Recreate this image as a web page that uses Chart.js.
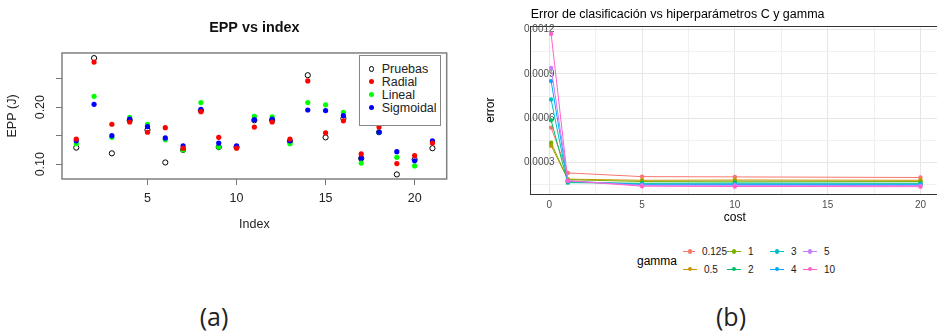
<!DOCTYPE html>
<html>
<head>
<meta charset="utf-8">
<script src="https://cdn.jsdelivr.net/npm/chart.js@4.4.1/dist/chart.umd.min.js"></script>
<style>
  html, body { margin: 0; padding: 0; background: #fff; width: 937px; height: 332px; overflow: hidden; }
  body { position: relative; font-family: "Liberation Sans", Arial, sans-serif; }
  .wrap { position: absolute; }
  #wrapA { left: 0; top: 0; width: 460px; height: 240px; }
  #wrapB { left: 470px; top: 0; width: 473px; height: 240px; }
  #legendA { position: absolute; left: 359px; top: 55px; width: 80px; height: 62px; border: 1px solid #888; padding-top: 6.5px; box-sizing: content-box; background: #fff; }
  #legendA .row { height: 12.9px; display: flex; align-items: center; font-size: 12.5px; color: #222; }
  #legendA .sym { width: 5.2px; height: 5.2px; border-radius: 50%; margin-left: 8.5px; box-sizing: border-box; }
  #legendA .txt { margin-left: 8px; }
  #gammaTitle { position: absolute; left: 637px; top: 254px; font-size: 12px; color: #000; }
  #legendB { position: absolute; left: 683px; top: 243px; display: grid; grid-auto-flow: column; grid-template-rows: 17.6px 17.6px; grid-template-columns: 44px 43px 33px 40px; }
  #legendB .item { display: flex; align-items: center; font-size: 10px; color: #1a1a1a; }
  #legendB .key { position: relative; width: 14px; height: 10px; }
  #legendB .line { position: absolute; left: 0; right: 0; top: 4.5px; height: 1px; }
  #legendB .dot { position: absolute; left: 4.8px; top: 2.7px; width: 4.4px; height: 4.4px; border-radius: 50%; }
  #legendB .lab { margin-left: 7px; }
  .caption { position: absolute; top: 299px; width: 80px; text-align: center; font-family: "Open Sans", sans-serif; font-size: 25px; color: #222; }
</style>
</head>
<body>
<div class="wrap" id="wrapA"><canvas id="chartA"></canvas></div>
<div id="legendA"></div>
<div class="wrap" id="wrapB"><canvas id="chartB"></canvas></div>
<div id="gammaTitle">gamma</div>
<div id="legendB"></div>
<div class="caption" style="left:174px">(a)</div>
<div class="caption" style="left:691px">(b)</div>

<script>
// Chart (a): EPP per test sample
const sampleIndex = [1, 2, 3, 4, 5, 6, 7, 8, 9, 10, 11, 12, 13, 14, 15, 16, 17, 18, 19, 20, 21];
const eppPruebas   = [0.129, 0.286, 0.119, 0.177, 0.160, 0.103, 0.125, 0.194, 0.130, 0.130, 0.177, 0.177, 0.140, 0.256, 0.147, 0.180, 0.110, 0.156, 0.082, 0.108, 0.128];
const eppRadial    = [0.144, 0.279, 0.170, 0.174, 0.156, 0.164, 0.128, 0.192, 0.147, 0.128, 0.165, 0.174, 0.144, 0.246, 0.155, 0.176, 0.118, 0.165, 0.101, 0.115, 0.137];
const eppLineal    = [0.136, 0.219, 0.147, 0.182, 0.170, 0.143, 0.125, 0.208, 0.130, 0.130, 0.184, 0.183, 0.136, 0.208, 0.204, 0.191, 0.102, 0.156, 0.112, 0.097, 0.139];
const eppSigmoidal = [0.141, 0.205, 0.150, 0.179, 0.166, 0.146, 0.132, 0.196, 0.137, 0.132, 0.178, 0.179, 0.141, 0.195, 0.194, 0.185, 0.111, 0.156, 0.122, 0.106, 0.141];

// Chart (b): classification error vs cost, one series per gamma
const costValues = [0.1, 1, 5, 10, 20];
const gammaLevels = ["0.125", "0.5", "1", "2", "3", "4", "5", "10"];
const errGamma0125 = [0.000537, 0.000230, 0.000205, 0.000203, 0.000199];
const errGamma05   = [0.000414, 0.000188, 0.000180, 0.000182, 0.000180];
const errGamma1    = [0.000434, 0.000184, 0.000172, 0.000174, 0.000172];
const errGamma2    = [0.000586, 0.000164, 0.000160, 0.000162, 0.000160];
const errGamma3    = [0.000727, 0.000170, 0.000155, 0.000156, 0.000154];
const errGamma4    = [0.000852, 0.000174, 0.000150, 0.000151, 0.000149];
const errGamma5    = [0.000941, 0.000177, 0.000146, 0.000146, 0.000144];
const errGamma10   = [0.001173, 0.000177, 0.000140, 0.000138, 0.000137];
const errByGamma = [errGamma0125, errGamma05, errGamma1, errGamma2, errGamma3, errGamma4, errGamma5, errGamma10];

// ggplot default hue palette
const gammaColors = ["#F8766D", "#CD9600", "#7CAE00", "#00BE67", "#00BFC4", "#00A9FF", "#C77CFF", "#FF61CC"];

const baseFont = "'Liberation Sans', Arial, sans-serif";

function toPoints(xs, ys) {
  return xs.map((x, i) => ({ x: x, y: ys[i] }));
}

// R-style box around the plot region
const plotBox = {
  id: "plotBox",
  afterDatasetsDraw(chart) {
    const a = chart.chartArea;
    const ctx = chart.ctx;
    ctx.save();
    ctx.strokeStyle = "#808080";
    ctx.lineWidth = 1.5;
    ctx.strokeRect(a.left, a.top, a.right - a.left, a.bottom - a.top);
    ctx.restore();
  },
};

function eppSeries(label, values, color, open, order) {
  return {
    label: label,
    data: toPoints(sampleIndex, values),
    showLine: false,
    order: order,
    pointRadius: 2.6,
    pointBorderWidth: open ? 1 : 0,
    pointBorderColor: color,
    pointBackgroundColor: open ? "rgba(0,0,0,0)" : color,
    borderColor: color,
    backgroundColor: open ? "rgba(0,0,0,0)" : color,
  };
}

function setupChartA() {
  const ctx = document.getElementById("chartA").getContext("2d");
  const chart = new Chart(ctx, {
    type: "scatter",
    data: {
      datasets: [
        eppSeries("Pruebas", eppPruebas, "#000000", true, 3),
        eppSeries("Radial", eppRadial, "#ff0000", false, 0),
        eppSeries("Lineal", eppLineal, "#00ff00", false, 2),
        eppSeries("Sigmoidal", eppSigmoidal, "#0000ff", false, 1),
      ],
    },
    options: {
      responsive: true,
      maintainAspectRatio: false,
      animation: false,
      layout: { padding: { left: 0, right: 13.3, top: 0, bottom: 0 } },
      plugins: {
        legend: { display: false },
        tooltip: { enabled: false },
        title: {
          display: true,
          text: "EPP vs index",
          fullSize: false,
          color: "#111",
          font: { family: baseFont, size: 14.4, weight: "bold", lineHeight: 1.2 },
          padding: { top: 19, bottom: 16.7 },
        },
      },
      scales: {
        x: {
          type: "linear",
          min: 0.2,
          max: 21.8,
          afterFit: (s) => { s.height = 61; },
          border: { display: false },
          grid: { drawOnChartArea: false, drawTicks: true, tickLength: 6, color: "#777" },
          ticks: {
            stepSize: 5,
            includeBounds: false,
            padding: 6.5,
            color: "#222",
            font: { family: baseFont, size: 12.5 },
          },
          title: {
            display: true,
            text: "Index",
            color: "#222",
            font: { family: baseFont, size: 12.5 },
            padding: { top: 0, bottom: 7.5 },
          },
        },
        y: {
          min: 0.074,
          max: 0.295,
          afterFit: (s) => { s.width = 62; },
          border: { display: false },
          grid: { drawOnChartArea: false, drawTicks: true, tickLength: 6, color: "#777" },
          ticks: {
            stepSize: 0.05,
            includeBounds: false,
            autoSkip: false,
            minRotation: 90,
            maxRotation: 90,
            crossAlign: "center",
            padding: 2.8,
            color: "#222",
            font: { family: baseFont, size: 12.5 },
            callback: (v) => {
              const r = Math.round(v * 100) / 100;
              return (Math.abs(r - 0.1) < 1e-9 || Math.abs(r - 0.2) < 1e-9) ? r.toFixed(2) : "";
            },
          },
          title: {
            display: true,
            text: "EPP (J)",
            color: "#222",
            font: { family: baseFont, size: 12.5 },
            padding: { top: 5, bottom: 0 },
          },
        },
      },
    },
    plugins: [plotBox],
  });
  buildLegendA(chart);
}

// Legend box (a), built from the chart's datasets
function buildLegendA(chart) {
  const box = document.getElementById("legendA");
  chart.data.datasets.forEach((ds) => {
    const open = ds.pointBorderWidth > 0;
    const row = document.createElement("div");
    row.className = "row";
    const sym = document.createElement("span");
    sym.className = "sym";
    sym.style.background = open ? "transparent" : ds.pointBackgroundColor;
    if (open) sym.style.border = "1px solid " + ds.pointBorderColor;
    const txt = document.createElement("span");
    txt.className = "txt";
    txt.textContent = ds.label;
    row.appendChild(sym);
    row.appendChild(txt);
    box.appendChild(row);
  });
}

function isMultiple(v, step) {
  const q = v / step;
  return Math.abs(q - Math.round(q)) < 1e-6;
}

function setupChartB() {
  const ctx = document.getElementById("chartB").getContext("2d");
  const datasets = gammaLevels.map((g, i) => ({
    label: g,
    data: toPoints(costValues, errByGamma[i]),
    order: gammaLevels.length - i,
    borderColor: gammaColors[i],
    backgroundColor: gammaColors[i],
    borderWidth: 1,
    tension: 0,
    pointRadius: 2.2,
    pointBorderWidth: 0,
    pointBackgroundColor: gammaColors[i],
  }));

  const chart = new Chart(ctx, {
    type: "line",
    data: { datasets: datasets },
    options: {
      responsive: true,
      maintainAspectRatio: false,
      animation: false,
      layout: { padding: { left: 10, right: 0, top: 0, bottom: 10.7 } },
      plugins: {
        legend: { display: false },
        tooltip: { enabled: false },
        title: {
          display: true,
          text: "Error de clasificación vs hiperparámetros C y gamma",
          align: "start",
          fullSize: false,
          color: "#000",
          font: { family: baseFont, size: 12.5, weight: "normal", lineHeight: 1.2 },
          padding: { top: 7, bottom: 4 },
        },
      },
      scales: {
        x: {
          type: "linear",
          min: -1,
          max: 21,
          afterFit: (s) => { s.height = 35; },
          border: { color: "#333", width: 1 },
          grid: {
            drawTicks: false,
            color: (c) => (c.tick && isMultiple(c.tick.value, 5) ? "#e6e6e6" : "#f0f0f0"),
          },
          ticks: {
            stepSize: 2.5,
            includeBounds: false,
            padding: 4.7,
            color: "#4d4d4d",
            font: { family: baseFont, size: 10 },
            callback: (v) => (isMultiple(v, 5) ? String(v) : ""),
          },
          title: {
            display: true,
            text: "cost",
            color: "#000",
            font: { family: baseFont, size: 12 },
            padding: { top: 0, bottom: 4.1 },
          },
        },
        x2: {
          type: "linear",
          position: "top",
          grid: { display: false, drawTicks: false },
          ticks: { display: false },
          border: { color: "#333", width: 1 },
        },
        y: {
          min: 0.0000852,
          max: 0.001225,
          afterFit: (s) => { s.width = 50.7; },
          border: { color: "#333", width: 1 },
          grid: {
            drawTicks: false,
            color: (c) => (c.tick && isMultiple(c.tick.value, 0.0003) ? "#e6e6e6" : "#f0f0f0"),
          },
          ticks: {
            stepSize: 0.00015,
            includeBounds: false,
            autoSkip: false,
            mirror: true,
            padding: -6.7,
            color: "#4d4d4d",
            font: { family: baseFont, size: 10 },
            callback: (v) => (isMultiple(v, 0.0003) ? v.toFixed(4) : ""),
          },
          title: {
            display: true,
            text: "error",
            color: "#000",
            font: { family: baseFont, size: 12 },
            padding: { top: 3, bottom: 0 },
          },
        },
      },
    },
  });
  buildLegendB(chart);
}

// Legend (b): two rows, filled column by column like ggplot
function buildLegendB(chart) {
  const box = document.getElementById("legendB");
  chart.data.datasets.forEach((ds) => {
    const item = document.createElement("div");
    item.className = "item";
    item.innerHTML =
      '<span class="key"><span class="line" style="background:' + ds.borderColor + '"></span>' +
      '<span class="dot" style="background:' + ds.borderColor + '"></span></span>' +
      '<span class="lab">' + ds.label + "</span>";
    box.appendChild(item);
  });
}

setupChartA();
setupChartB();
</script>
</body>
</html>
